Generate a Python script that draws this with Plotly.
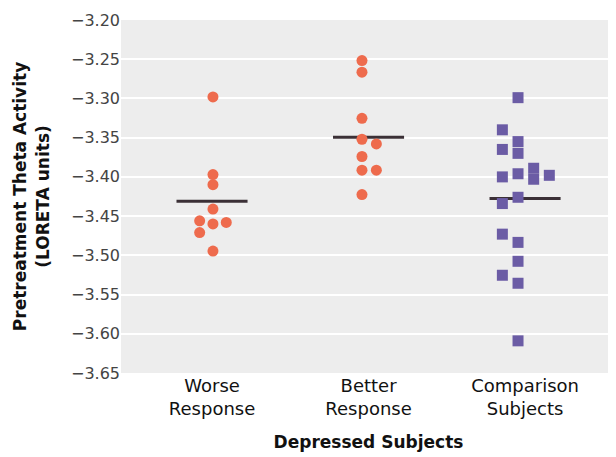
import plotly.graph_objects as go

# ---- data ----
categories = ["Worse<br>Response", "Better<br>Response", "Comparison<br>Subjects"]

worse_values = [-3.298, -3.397, -3.410, -3.441, -3.456, -3.460, -3.458, -3.471, -3.4945]
worse_slots = [0, 0, 0, 0, -1, 0, 1, -1, 0]

better_values = [-3.2517, -3.2665, -3.3254, -3.352, -3.358, -3.374, -3.3915, -3.3915, -3.4225]
better_slots = [0, 0, 0, 0, 1, 0, 0, 1, 0]

comparison_values = [-3.299, -3.340, -3.355, -3.365, -3.370, -3.389, -3.396, -3.400, -3.398,
                     -3.403, -3.426, -3.434, -3.473, -3.4835, -3.5076, -3.5254, -3.5356, -3.609]
comparison_slots = [0, -1, 0, -1, 0, 1, 0, -1, 2, 1, 0, -1, -1, 0, 0, -1, 0, 0]

group_means = [-3.431, -3.3496, -3.4275]

y_ticks = [-3.20, -3.25, -3.30, -3.35, -3.40, -3.45, -3.50, -3.55, -3.60, -3.65]

# ---- styling / layout ----
ORANGE = "#EE6B4D"
PURPLE = "#6B5CA5"
column_shift = [0.006, -0.042, -0.045]
slot_step = [0.085, 0.092, 0.100]
mean_half = 0.227
FONT = "DejaVu Sans, Verdana, sans-serif"


def xs(group, slots):
    return [group + 1 + column_shift[group] + s * slot_step[group] for s in slots]


fig = go.Figure()

# mean lines
for i, m in enumerate(group_means):
    fig.add_trace(go.Scatter(
        x=[i + 1 - mean_half, i + 1 + mean_half], y=[m, m], mode="lines",
        line=dict(color="#3B3036", width=3), showlegend=False, hoverinfo="skip"))

fig.add_trace(go.Scatter(x=xs(0, worse_slots), y=worse_values, mode="markers",
                         marker=dict(color=ORANGE, size=11, symbol="circle"), showlegend=False))
fig.add_trace(go.Scatter(x=xs(1, better_slots), y=better_values, mode="markers",
                         marker=dict(color=ORANGE, size=11, symbol="circle"), showlegend=False))
fig.add_trace(go.Scatter(x=xs(2, comparison_slots), y=comparison_values, mode="markers",
                         marker=dict(color=PURPLE, size=11, symbol="square"), showlegend=False))

tick_text = [f"\u2212{abs(v):.2f}" for v in y_ticks]

# page body has an 8px margin: the figure is sized/offset to fill the window
fig.update_layout(
    width=608, height=449,
    margin=dict(l=113, r=0, t=12, b=84, autoexpand=False),
    paper_bgcolor="white",
    plot_bgcolor="#EDEDED",
    font=dict(family=FONT, color="#222"),
    xaxis=dict(
        range=[0.4185, 3.581],
        tickmode="array", tickvals=[1, 2, 3], ticktext=categories,
        tickfont=dict(size=18, color="#111"),
        showgrid=False, zeroline=False, showline=False, ticks="",
        title=dict(text="<b>Depressed Subjects</b>", font=dict(size=17, color="#111"), standoff=17),
    ),
    yaxis=dict(
        range=[-3.65, -3.20],
        tickmode="array", tickvals=y_ticks, ticktext=tick_text,
        tickfont=dict(size=16, color="#444"),
        gridcolor="white", gridwidth=2, zeroline=False, showline=False, ticks="",
        title=dict(text="<b>Pretreatment Theta Activity<br>(LORETA units)</b>",
                   font=dict(size=17, color="#111"), standoff=17),
    ),
)

fig.write_html("out.html")
